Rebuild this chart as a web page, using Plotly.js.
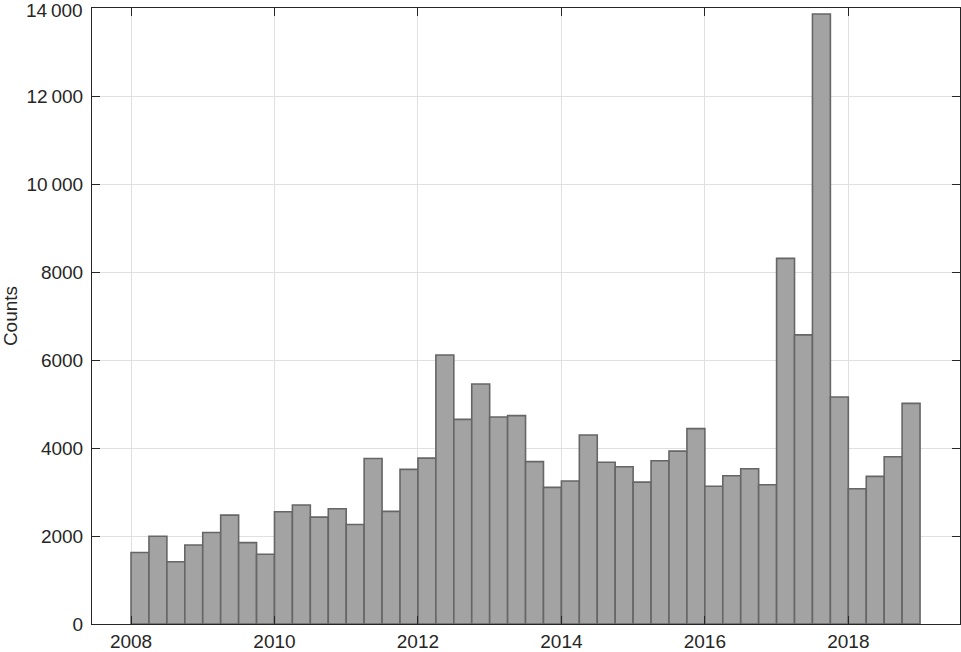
<!DOCTYPE html>
<html>
<head>
<meta charset="utf-8">
<script src="https://cdn.plot.ly/plotly-3.0.1.min.js"></script>
<style>html,body{margin:0;padding:0;background:#fff;}#chart{width:961px;height:652px;}</style>
</head>
<body>
<div id="chart"></div>
<script>
// Quarterly bins, 2008 Q1 .. 2018 Q4
const years = [2008, 2009, 2010, 2011, 2012, 2013, 2014, 2015, 2016, 2017, 2018];
const quarterOffsets = [0, 0.25, 0.5, 0.75];
const binWidth = 0.25;
const counts = [
  1625, 1995, 1415, 1795,
  2080, 2475, 1850, 1585,
  2550, 2705, 2430, 2620,
  2260, 3760, 2560, 3515,
  3770, 6115, 4650, 5455,
  4705, 4735, 3690, 3105,
  3250, 4295, 3675, 3575,
  3225, 3710, 3930, 4440,
  3130, 3370, 3530, 3165,
  8310, 6570, 13865, 5160,
  3075, 3355, 3800, 5015
];
const yTicks = [0, 2000, 4000, 6000, 8000, 10000, 12000, 14000];
const yTickText = ['0', '2000', '4000', '6000', '8000', '10\u2009000', '12\u2009000', '14\u2009000'];
const xTicks = [2008, 2010, 2012, 2014, 2016, 2018];

const binCenters = [];
years.forEach(y => quarterOffsets.forEach(q => binCenters.push(y + q + binWidth / 2)));

const font = {family: 'Liberation Sans, Arial, sans-serif', size: 19, color: '#262626'};

// Top tick label (Plotly drops the label sitting at the very top edge), drawn as an annotation
const topIdx = yTicks.length - 1;
const annotations = [{
  xref: 'paper', yref: 'y', x: 0, y: yTicks[topIdx],
  xanchor: 'right', yanchor: 'middle', xshift: -8, yshift: -2,
  borderpad: 0,
  text: yTickText[topIdx], showarrow: false, font: font
}];

Plotly.newPlot('chart', [{
  type: 'bar',
  x: binCenters,
  y: counts,
  width: binWidth,
  marker: {color: '#a3a3a3', line: {color: '#666666', width: 1.6}},
  hoverinfo: 'x+y'
}], {
  width: 961, height: 652,
  margin: {l: 92, r: 1, t: 8, b: 28, pad: 0},
  paper_bgcolor: '#ffffff', plot_bgcolor: '#ffffff',
  font: font,
  showlegend: false,
  bargap: 0,
  annotations: annotations,
  xaxis: {
    range: [2007.456, 2019.557],
    tickmode: 'array', tickvals: xTicks, ticktext: xTicks.map(String),
    ticks: 'inside', ticklen: 8, tickcolor: '#262626', tickwidth: 1,
    showline: true, linecolor: '#262626', linewidth: 1, mirror: 'ticks',
    showgrid: true, gridcolor: '#e0e0e0', gridwidth: 1,
    zeroline: false, tickfont: font, ticklabelstandoff: 0
  },
  yaxis: {
    range: [0, 14000],
    tickmode: 'array', tickvals: yTicks, ticktext: yTickText,
    ticks: 'inside', ticklen: 8, tickcolor: '#262626', tickwidth: 1,
    showline: true, linecolor: '#262626', linewidth: 1, mirror: 'ticks',
    showgrid: true, gridcolor: '#e0e0e0', gridwidth: 1,
    zeroline: false, tickfont: font, ticklabelstandoff: 4,
    title: {text: 'Counts', font: font, standoff: 10}
  }
}, {displayModeBar: false, staticPlot: true});
</script>
</body>
</html>
